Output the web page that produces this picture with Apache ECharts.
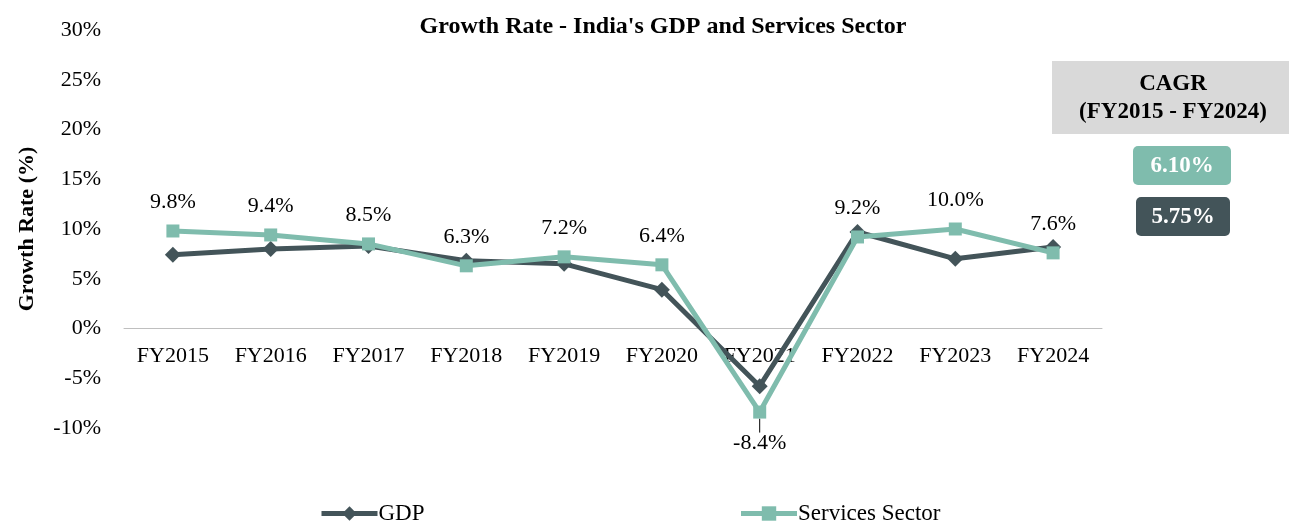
<!DOCTYPE html>
<html>
<head>
<meta charset="utf-8">
<script src="https://cdn.jsdelivr.net/npm/echarts@6/dist/echarts.min.js"></script>
<style>
  html, body { margin: 0; padding: 0; background: #fff; }
  #chart { width: 1289px; height: 521px; }
</style>
</head>
<body>
<div id="chart"></div>
<script>
const years = ['FY2015', 'FY2016', 'FY2017', 'FY2018', 'FY2019', 'FY2020', 'FY2021', 'FY2022', 'FY2023', 'FY2024']
const gdp = [7.4, 8.0, 8.3, 6.8, 6.5, 3.9, -5.8, 9.7, 7.0, 8.2]
const services = [9.8, 9.4, 8.5, 6.3, 7.2, 6.4, -8.4, 9.2, 10.0, 7.6]
const cagrServices = '6.10%'
const cagrGdp = '5.75%'

const font = '"Liberation Serif", "Times New Roman", serif'
const dark = '#435459'
const teal = '#7fbcad'

const chart = echarts.init(document.getElementById('chart'))

let option = {
  backgroundColor: '#fff',
  textStyle: { fontFamily: font },
  title: {
    text: "Growth Rate - India's GDP and Services Sector",
    left: 658,
    top: 10,
    textAlign: 'center',
    textStyle: { fontFamily: font, fontSize: 24, fontWeight: 'bold', color: '#000' },
  },
  grid: { left: 124, right: 187, top: 30, bottom: 93 },
  legend: {
    top: 497,
    left: 314,
    itemGap: 314,
    itemWidth: 56,
    itemHeight: 18,
    lineStyle: { width: 5 },
    textStyle: { fontFamily: font, fontSize: 23, color: '#000', padding: [0, 0, 0, -4] },
    data: ['GDP', 'Services Sector'],
  },
  xAxis: {
    type: 'category',
    data: years,
    axisLine: { onZero: true, lineStyle: { color: '#bfbfbf', width: 1 } },
    axisTick: { show: false },
    axisLabel: { fontFamily: font, fontSize: 22, color: '#000', margin: -83 },
  },
  yAxis: {
    type: 'value',
    min: -10,
    max: 30,
    interval: 5,
    name: 'Growth Rate (%)',
    nameLocation: 'middle',
    nameGap: 86,
    nameTextStyle: { fontFamily: font, fontSize: 22, fontWeight: 'bold', color: '#000' },
    splitLine: { show: false },
    axisLine: { show: false },
    axisTick: { show: false },
    axisLabel: { fontFamily: font, fontSize: 22, color: '#000', margin: 23, formatter: '{value}%' },
  },
  series: [
    {
      name: 'GDP',
      type: 'line',
      data: gdp,
      symbol: 'diamond',
      symbolSize: 16,
      color: dark,
      lineStyle: { width: 5, color: dark },
      itemStyle: { color: dark },
      z: 2,
    },
    {
      name: 'Services Sector',
      type: 'line',
      data: services.map((v) =>
        v < 0
          ? { value: v, label: { position: 'bottom', distance: 2 }, labelLine: { show: true } }
          : v
      ),
      symbol: 'rect',
      symbolSize: 13,
      color: teal,
      lineStyle: { width: 5, color: teal },
      itemStyle: { color: teal },
      z: 3,
      label: {
        show: true,
        position: 'top',
        distance: 11,
        fontFamily: font,
        fontSize: 22,
        color: '#000',
        formatter: (p) => p.value.toFixed(1) + '%',
      },
      labelLine: { show: false, lineStyle: { color: '#000', width: 1 } },
      // 负值标签往下挪一点，留出引线
      labelLayout: (p) => (services[p.dataIndex] < 0 ? { dy: 12 } : {}),
    },
  ],
  graphic: [
    {
      type: 'rect',
      shape: { x: 1052, y: 61, width: 237, height: 73 },
      style: { fill: '#d9d9d9' },
    },
    {
      type: 'text',
      x: 1173,
      y: 98,
      style: {
        text: 'CAGR\n(FY2015 - FY2024)',
        fontFamily: font,
        fontSize: 23,
        fontWeight: 'bold',
        lineHeight: 28,
        fill: '#000',
        align: 'center',
        verticalAlign: 'middle',
      },
    },
    {
      type: 'rect',
      shape: { x: 1133, y: 146, width: 98, height: 39, r: 5 },
      style: { fill: teal },
    },
    {
      type: 'text',
      x: 1182,
      y: 166,
      style: { text: cagrServices, fontFamily: font, fontSize: 23, fontWeight: 'bold', fill: '#fff', align: 'center', verticalAlign: 'middle' },
    },
    {
      type: 'rect',
      shape: { x: 1136, y: 197, width: 94, height: 39, r: 5 },
      style: { fill: dark },
    },
    {
      type: 'text',
      x: 1183,
      y: 217,
      style: { text: cagrGdp, fontFamily: font, fontSize: 23, fontWeight: 'bold', fill: '#fff', align: 'center', verticalAlign: 'middle' },
    },
  ],
}
chart.setOption(option)
window.onresize = chart.resize
</script>
</body>
</html>
